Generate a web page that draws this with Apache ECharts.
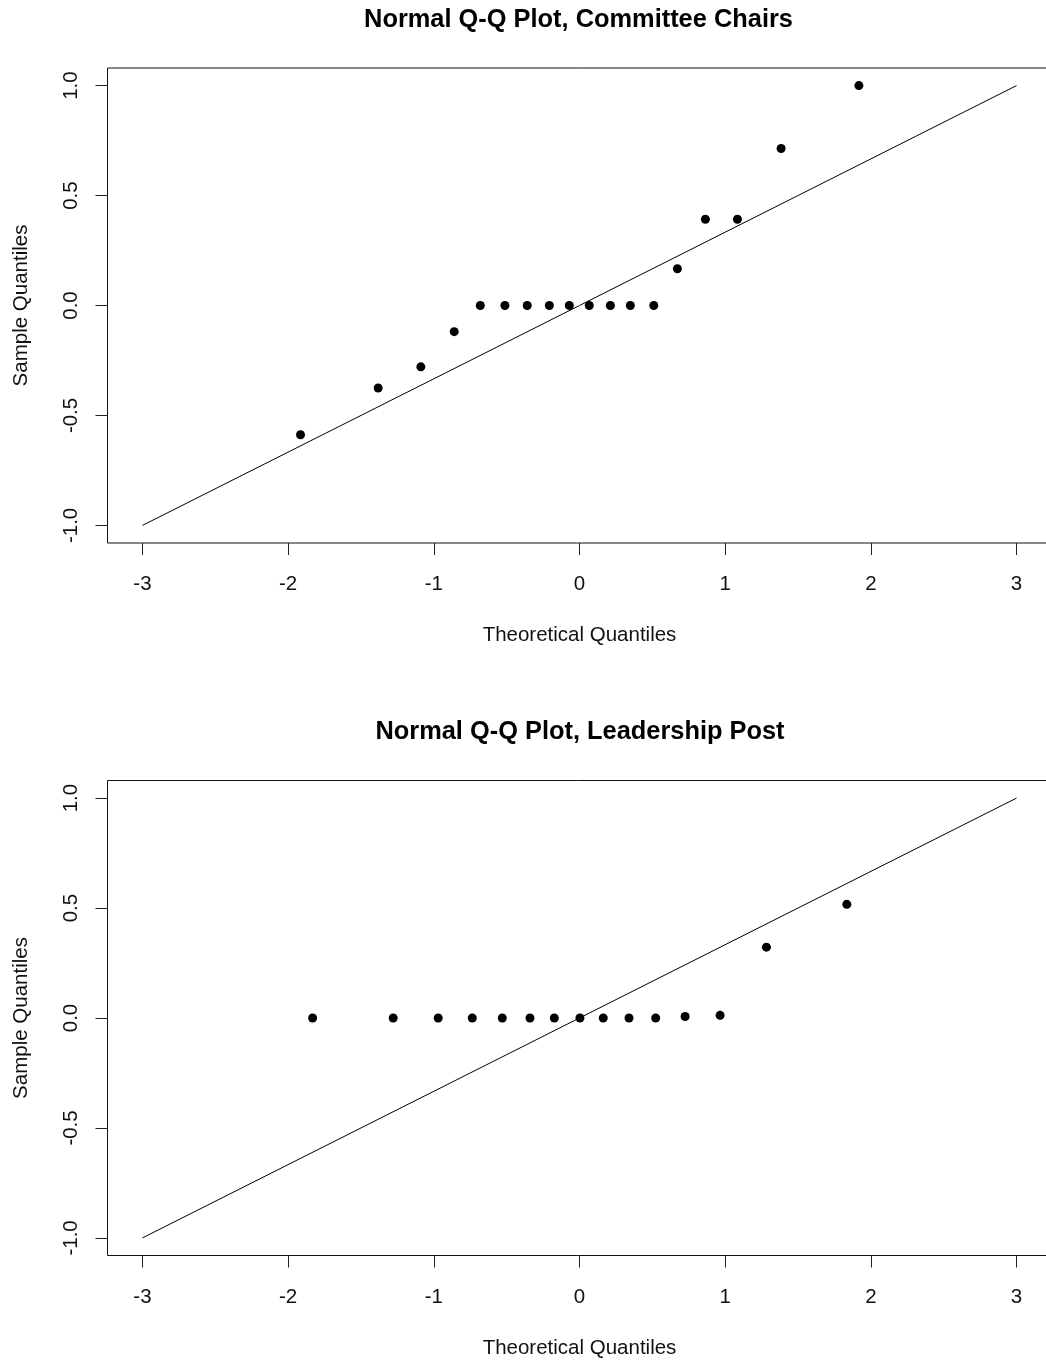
<!DOCTYPE html>
<html>
<head>
<meta charset="utf-8">
<script src="https://cdn.jsdelivr.net/npm/echarts@6/dist/echarts.min.js"></script>
<style>
html,body{margin:0;padding:0;background:#fff;}
#chart{width:1046px;height:1361px;}
</style>
</head>
<body>
<div id="chart"></div>
<script>
// ---- data ----
const titles = ['Normal Q-Q Plot, Committee Chairs', 'Normal Q-Q Plot, Leadership Post'];
const xName = 'Theoretical Quantiles';
const yName = 'Sample Quantiles';
const xTicks = [-3, -2, -1, 0, 1, 2, 3];
const yTicks = [-1, -0.5, 0, 0.5, 1];
const xLimits = [-3.24, 3.24];
const yLimits = [-1.08, 1.08];

const chairsTheo   = [-1.915, -1.382, -1.089, -0.860, -0.681, -0.512, -0.359, -0.207, -0.070, 0.067, 0.212, 0.349, 0.510, 0.672, 0.864, 1.084, 1.384, 1.918];
const chairsSample = [-0.588, -0.375, -0.279, -0.119, 0, 0, 0, 0, 0, 0, 0, 0, 0, 0.167, 0.392, 0.392, 0.714, 1.0];

const postTheo   = [-1.832, -1.279, -0.970, -0.736, -0.530, -0.340, -0.173, 0.003, 0.163, 0.340, 0.523, 0.725, 0.965, 1.283, 1.835];
const postSample = [0, 0, 0, 0, 0, 0, 0, 0, 0, 0, 0, 0.007, 0.012, 0.322, 0.517];

const refLineX = [-3, 3];
const refLineY = [-1, 1];

// ---- chart ----
const FONT = '"Liberation Sans", Arial, sans-serif';
const pairs = (xs, ys) => xs.map((x, i) => [x, ys[i]]);

const panels = [
  {top: 68, theo: chairsTheo, sample: chairsSample, titleTop: 2, titleLeft: 573.5},
  {top: 780.5, theo: postTheo, sample: postSample, titleTop: 714, titleLeft: 575}
];

const option = {
  animation: false,
  backgroundColor: '#fff',
  textStyle: {fontFamily: FONT},
  title: panels.map((p, i) => ({
    text: titles[i],
    left: p.titleLeft,
    top: p.titleTop,
    textAlign: 'center',
    textStyle: {fontFamily: FONT, fontSize: 25.4, fontWeight: 'bold', color: '#000'}
  })),
  grid: panels.map(p => ({
    left: 107.5, top: p.top, width: 944, height: 475,
    show: true, borderColor: '#111', borderWidth: 1, backgroundColor: 'transparent',
    containLabel: false, outerBoundsMode: 'none'
  })),
  xAxis: panels.map((p, i) => ({
    type: 'value', gridIndex: i, min: xLimits[0], max: xLimits[1],
    position: 'bottom',
    name: xName, nameLocation: 'middle', nameGap: 82,
    nameTextStyle: {fontFamily: FONT, fontSize: 20.5, color: '#111'},
    axisLine: {show: false, onZero: false},
    splitLine: {show: false},
    axisTick: {show: true, inside: false, length: 12, customValues: xTicks, lineStyle: {color: '#222', width: 1}},
    axisLabel: {show: true, customValues: xTicks, margin: 31, fontFamily: FONT, fontSize: 20.5, color: '#111',
      formatter: v => String(v)}
  })),
  yAxis: panels.map((p, i) => ({
    type: 'value', gridIndex: i, min: yLimits[0], max: yLimits[1],
    position: 'left',
    name: yName, nameLocation: 'middle', nameGap: 76, nameRotate: 90,
    nameTextStyle: {fontFamily: FONT, fontSize: 20.5, color: '#111'},
    axisLine: {show: false, onZero: false},
    splitLine: {show: false},
    axisTick: {show: true, inside: false, length: 12, customValues: yTicks, lineStyle: {color: '#222', width: 1}},
    axisLabel: {show: true, customValues: yTicks, rotate: 90, margin: 26, fontFamily: FONT, fontSize: 20.5, color: '#111',
      formatter: v => v.toFixed(1)}
  })),
  series: []
};

panels.forEach((p, i) => {
  option.series.push({
    type: 'line', xAxisIndex: i, yAxisIndex: i,
    data: pairs(refLineX, refLineY),
    showSymbol: false, symbol: 'none', silent: true,
    lineStyle: {color: '#000', width: 1}
  });
  option.series.push({
    type: 'scatter', xAxisIndex: i, yAxisIndex: i,
    data: pairs(p.theo, p.sample),
    symbol: 'circle', symbolSize: 9, clip: false,
    itemStyle: {color: '#000', opacity: 1}
  });
});

const chart = echarts.init(document.getElementById('chart'), null, {renderer: 'canvas'});
chart.setOption(option);
</script>
</body>
</html>
